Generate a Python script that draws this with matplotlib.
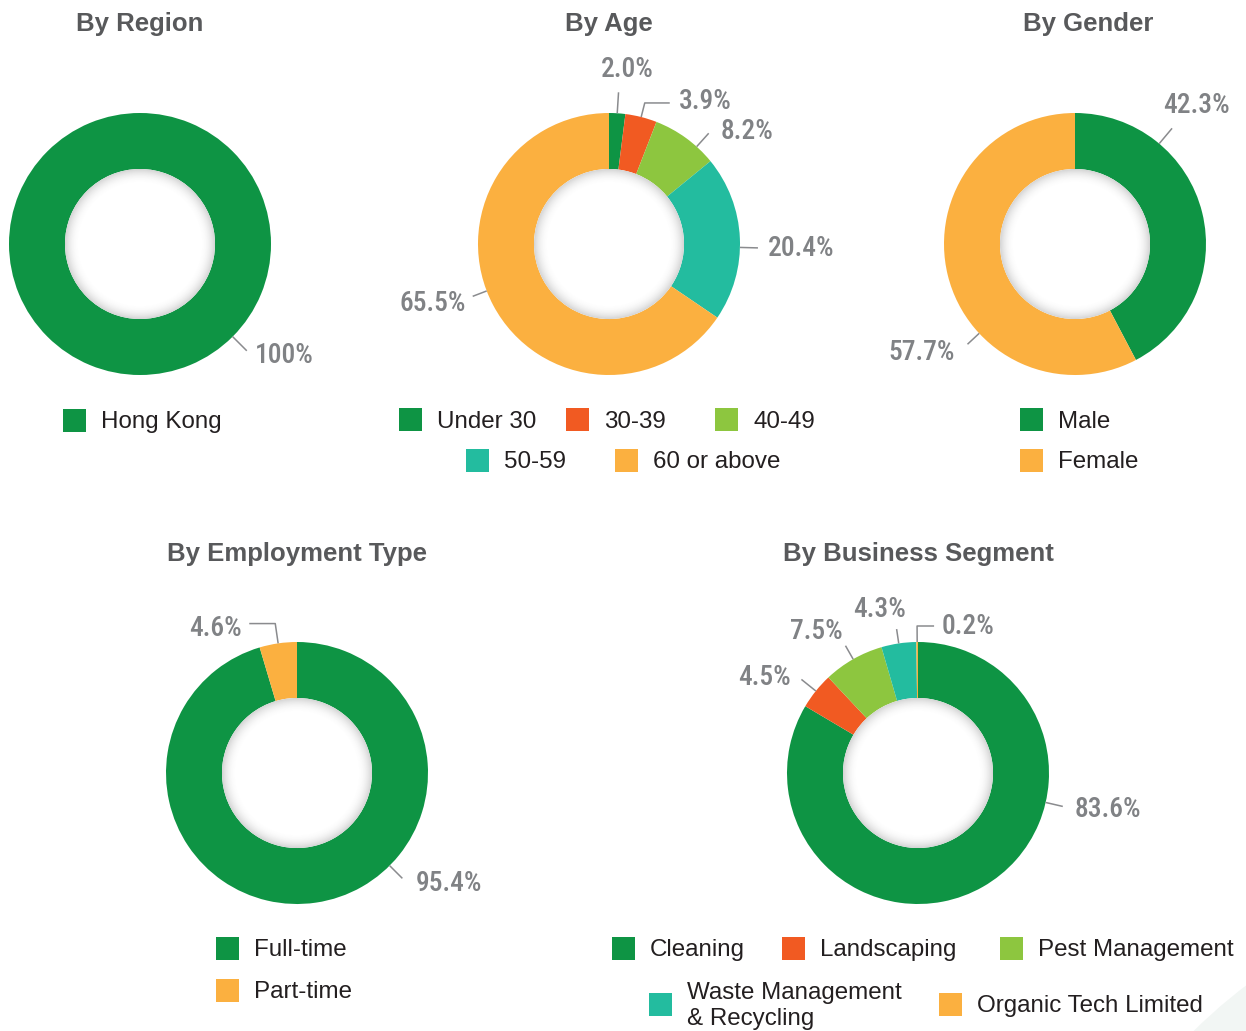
import numpy as np
import matplotlib
matplotlib.use("Agg")
import matplotlib.pyplot as plt
from matplotlib import font_manager
from matplotlib.patches import Circle, Rectangle

# ---- data -------------------------------------------------------------
region_labels = ["Hong Kong"]
region_values = [100.0]

age_labels = ["Under 30", "30-39", "40-49", "50-59", "60 or above"]
age_values = [2.0, 3.9, 8.2, 20.4, 65.5]

gender_labels = ["Male", "Female"]
gender_values = [42.3, 57.7]

employment_labels = ["Full-time", "Part-time"]
employment_values = [95.4, 4.6]

segment_labels = ["Cleaning", "Landscaping", "Pest Management",
                  "Waste Management\n& Recycling", "Organic Tech Limited"]
segment_values = [83.6, 4.5, 7.5, 4.3, 0.2]

# ---- style ------------------------------------------------------------
GREEN = "#0E9444"
RED = "#F15A22"
LIME = "#8DC63F"
TEAL = "#23BC9F"
ORANGE = "#FBB040"
LABEL_GREY = "#808285"
TITLE_GREY = "#58595B"
TEXT_DARK = "#231F20"

W, H = 1246, 1031
R_OUT, R_IN = 131, 75

installed = {f.name for f in font_manager.fontManager.ttflist}


def pick(*names):
    for n in names:
        if n in installed:
            return [n, "DejaVu Sans"]
    return ["DejaVu Sans"]


fig = plt.figure(figsize=(W / 100, H / 100), dpi=100)
ax = fig.add_axes([0, 0, 1, 1])


def Y(py):
    return H - py


label_font = dict(family=pick("Roboto Condensed", "Liberation Sans Narrow", "Roboto"),
                  weight="medium", fontsize=19.8, color=LABEL_GREY)
title_font = dict(family=pick("Liberation Sans"),
                  weight="bold", fontsize=18.5, color=TITLE_GREY)
legend_font = dict(family=pick("Liberation Sans"),
                   fontsize=17.4, color=TEXT_DARK)

# faint decorative band in the lower-right corner
ax.add_patch(Circle((1560, Y(1400)), 520, facecolor="#F2F6F4", edgecolor="none", zorder=0))
ax.add_patch(Circle((1560, Y(1400)), 470, facecolor="#F8FAF9", edgecolor="none", zorder=0))


def hole_shadow(cx, cy):
    n = 300
    g = np.linspace(-1, 1, n)
    xx, yy = np.meshgrid(g, g)
    rr = np.sqrt(xx ** 2 + yy ** 2)
    a = np.clip((rr - 0.80) / 0.20, 0, 1) ** 2.2 * 0.30
    img = np.zeros((n, n, 4))
    img[..., :3] = 0.45
    img[..., 3] = a
    im = ax.imshow(img, extent=(cx - R_IN, cx + R_IN, Y(cy) - R_IN, Y(cy) + R_IN),
                   interpolation="bilinear", zorder=3)
    clip = Circle((cx, Y(cy)), R_IN, transform=ax.transData)
    im.set_clip_path(clip)


def donut(cx, cy, values, colors, labels):
    """labels: list of (text, angle or None, radial_len, elbow_dx, text_dx, text_dy, ha)"""
    wedges, _ = ax.pie(values, colors=colors, startangle=90, counterclock=False,
                       radius=R_OUT, center=(cx, Y(cy)), frame=True,
                       wedgeprops=dict(width=R_OUT - R_IN, linewidth=0))
    for w in wedges:
        w.set_zorder(2)
    ax.add_patch(Circle((cx, Y(cy)), R_IN, facecolor="white", edgecolor="none", zorder=2.5))
    hole_shadow(cx, cy)

    total = sum(values)
    cum = 0
    for v, spec in zip(values, labels):
        text, ang, L, hdx, tdx, tdy, ha = spec
        mid = 90 - (cum + v / 2) / total * 360
        cum += v
        a = np.deg2rad(mid if ang is None else ang)
        x0 = cx + R_OUT * np.cos(a)
        y0 = Y(cy) + R_OUT * np.sin(a)
        x1 = cx + (R_OUT + L) * np.cos(a)
        y1 = Y(cy) + (R_OUT + L) * np.sin(a)
        xs, ys = [x0, x1], [y0, y1]
        if hdx:
            xs.append(x1 + hdx)
            ys.append(y1)
        ax.plot(xs, ys, color="#8A8B8E", lw=1.1, zorder=4, solid_capstyle="butt")
        ax.text(xs[-1] + tdx, ys[-1] - tdy - 1.5, text, ha=ha, va="center", zorder=5,
                **label_font)


def legend(items, x0s, ys, colors):
    for lab, x, y, c in zip(items, x0s, ys, colors):
        ax.add_patch(Rectangle((x, Y(y) - 11.5), 23, 23, facecolor=c, edgecolor="none", zorder=2))
        ax.text(x + 38, Y(y) - 2, lab, ha="left", va="center", linespacing=1.27, **legend_font)


# ---- By Region --------------------------------------------------------
ax.text(140, Y(31), "By Region", ha="center", va="baseline", **title_font)
donut(140, 244, region_values, [GREEN],
      [("100%", -45, 20, 0, 8, 3.5, "left")])
legend(region_labels, [63], [420], [GREEN])

# ---- By Age -----------------------------------------------------------
ax.text(608.5, Y(31), "By Age", ha="center", va="baseline", **title_font)
donut(609, 244, age_values, [GREEN, RED, LIME, TEAL, ORANGE],
      [("2.0%", None, 21, 0, 8.5, -24, "center"),
       ("3.9%", None, 14.5, 25, 9, -3, "left"),
       ("8.2%", 48, 18, 0, 12, -3, "left"),
       ("20.4%", -1.5, 18, 0, 10, -1, "left"),
       ("65.5%", -159, 15, 0, -7, 5.7, "right")])
legend(age_labels, [399, 566, 715, 466, 615], [419.5, 419.5, 419.5, 460, 460],
       [GREEN, RED, LIME, TEAL, ORANGE])

# ---- By Gender --------------------------------------------------------
ax.text(1088.5, Y(31), "By Gender", ha="center", va="baseline", **title_font)
donut(1075, 244, gender_values, [GREEN, ORANGE],
      [("42.3%", 50, 20, 0, 24, -24, "center"),
       ("57.7%", -137, 16, 0, -13, 6.5, "right")])
legend(gender_labels, [1020, 1020], [419.5, 460], [GREEN, ORANGE])

# ---- By Employment Type ----------------------------------------------
ax.text(297, Y(561), "By Employment Type", ha="center", va="baseline", **title_font)
donut(297, 773, employment_values, [GREEN, ORANGE],
      [("95.4%", -45, 18, 0, 13, 3.5, "left"),
       ("4.6%", None, 20, -26, -7, 3, "right")])
legend(employment_labels, [216, 216], [948, 990], [GREEN, ORANGE])

# ---- By Business Segment ---------------------------------------------
ax.text(918.5, Y(561), "By Business Segment", ha="center", va="baseline", **title_font)
donut(918, 773, segment_values, [GREEN, RED, LIME, TEAL, ORANGE],
      [("83.6%", -13, 17.6, 0, 12, 1.5, "left"),
       ("4.5%", None, 18.5, 0, -11, -3, "right"),
       ("7.5%", None, 15.5, 0, -3, -16, "right"),
       ("4.3%", None, 14.5, 0, -17, -21, "center"),
       ("0.2%", None, 16, 17, 8, -1, "left")])
legend(segment_labels, [612, 782, 1000, 649, 939], [948, 948, 948, 1004, 1004],
       [GREEN, RED, LIME, TEAL, ORANGE])

ax.set_xlim(0, W)
ax.set_ylim(0, H)
ax.set_aspect("auto")
ax.axis("off")

fig.savefig("out.png", dpi=100, facecolor="white")
